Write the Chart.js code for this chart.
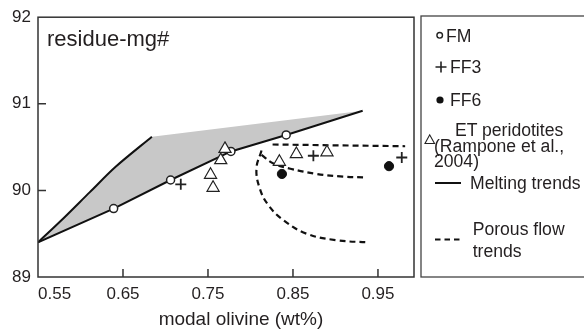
<!DOCTYPE html>
<html lang="en">
<head>
<meta charset="UTF-8">
<title>residue-mg#</title>
<script src="https://cdn.jsdelivr.net/npm/chart.js@4.4.1/dist/chart.umd.min.js"></script>
<style>
    body { margin: 0; background: #fff; overflow: hidden; }
    #wrap { position: relative; width: 584px; height: 332px; }
    #overlay { position: absolute; left: 0; top: 0; }
    #overlay text { font-family: "Liberation Sans", Arial, Helvetica, sans-serif; fill: #231f20; }
</style>
</head>
<body>
<div id="wrap">
    <canvas id="grafico" width="584" height="332"></canvas>
    <svg id="overlay" width="584" height="332">
        <text x="47" y="46" font-size="22">residue-mg#</text>
        <text x="241" y="325" font-size="19" text-anchor="middle">modal olivine (wt%)</text>

        <!-- legenda -->
        <rect x="421" y="16" width="200" height="261" fill="none" stroke="#444" stroke-width="1.3"/>
        <circle cx="439.7" cy="35.3" r="2.8" fill="#fff" stroke="#222" stroke-width="1.4"/>
        <text x="446" y="41.5" font-size="17.6">FM</text>
        <path d="M435.5 67 H446.5 M441 61.5 V72.5" stroke="#222" stroke-width="1.6"/>
        <text x="450" y="73.4" font-size="17.6">FF3</text>
        <circle cx="440" cy="100" r="3.6" fill="#111"/>
        <text x="450" y="106.2" font-size="17.6">FF6</text>
        <path d="M425 143.5 L434.5 143.5 L429.7 134.8 Z" fill="#fff" stroke="#222" stroke-width="1.1"/>
        <text x="455" y="136.4" font-size="17.6">ET peridotites</text>
        <text x="434" y="151.8" font-size="17.6">(Rampone et al.,</text>
        <text x="434" y="167.2" font-size="17.6">2004)</text>
        <path d="M435 183 H461" stroke="#111" stroke-width="2"/>
        <text x="470" y="189.2" font-size="17.6">Melting trends</text>
        <path d="M435 239.5 H461" stroke="#111" stroke-width="2" stroke-dasharray="5.5 4"/>
        <text x="472.7" y="235.2" font-size="17.6">Porous flow</text>
        <text x="472.7" y="256.7" font-size="17.6">trends</text>
    </svg>
</div>

<script>
    // eixos
    var xMin = 0.55
    var xMax = 0.9924
    var yMin = 89
    var yMax = 92
    var xTicks = [0.55, 0.65, 0.75, 0.85, 0.95]
    var xTickLabels = ['0.55', '0.65', '0.75', '0.85', '0.95']
    var yTicks = [89, 90, 91, 92]
    var yTickLabels = ['89', '90', '91', '92']

    // melting trends
    var meltUpperX = [0.550, 0.576, 0.611, 0.641, 0.684]
    var meltUpperY = [89.40, 89.64, 89.98, 90.27, 90.62]
    var meltLowerX = [0.550, 0.639, 0.706, 0.777, 0.842, 0.932]
    var meltLowerY = [89.40, 89.79, 90.12, 90.45, 90.64, 90.92]

    // porous flow trends
    var flowTopX = [0.826, 0.982]
    var flowTopY = [90.53, 90.51]
    var flowMidX = [0.813, 0.827, 0.847, 0.878, 0.909, 0.935]
    var flowMidY = [90.41, 90.31, 90.25, 90.19, 90.16, 90.15]
    var flowOuterX = [0.813, 0.807, 0.811, 0.821, 0.839, 0.866, 0.901, 0.939]
    var flowOuterY = [90.46, 90.25, 90.02, 89.83, 89.655, 89.50, 89.425, 89.40]

    // amostras
    var fmX = [0.639, 0.706, 0.777, 0.842]
    var fmY = [89.79, 90.12, 90.45, 90.64]
    var ff3X = [0.718, 0.874, 0.978]
    var ff3Y = [90.07, 90.40, 90.38]
    var ff6X = [0.837, 0.963]
    var ff6Y = [90.19, 90.28]
    var etX = [0.753, 0.756, 0.765, 0.770, 0.834, 0.854, 0.890]
    var etY = [90.18, 90.03, 90.35, 90.48, 90.33, 90.42, 90.44]

    function pontos(xs, ys) {
        return xs.map(function (x, i) { return { x: x, y: ys[i] } })
    }

    // area cinza: curva de cima, borda superior, volta pela linha de baixo
    var areaCinza = pontos(meltUpperX, meltUpperY)
        .concat(pontos(meltLowerX, meltLowerY).slice(1).reverse())

    var fonte = { family: '"Liberation Sans", Arial, Helvetica, sans-serif', size: 17 }
    var corTexto = '#231f20'

    function linha(dados, tracejado, tensao) {
        return {
            data: dados,
            showLine: true,
            pointRadius: 0,
            borderColor: '#111',
            borderWidth: tracejado ? 2.2 : 2,
            borderDash: tracejado ? [6, 4] : [],
            tension: tensao,
            fill: false,
            order: 2
        }
    }

    const moldura = {
        id: 'moldura',
        afterDraw: function (chart) {
            const ctx = chart.ctx
            const a = chart.chartArea
            const sx = chart.scales.x
            const sy = chart.scales.y
            ctx.save()
            ctx.strokeStyle = '#333'
            ctx.lineWidth = 1.5
            ctx.strokeRect(a.left, a.top, a.right - a.left, a.bottom - a.top)
            ctx.beginPath()
            xTicks.slice(1).forEach(function (v) {
                const px = sx.getPixelForValue(v)
                ctx.moveTo(px, a.bottom)
                ctx.lineTo(px, a.bottom - 8)
            })
            yTicks.slice(1, -1).forEach(function (v) {
                const py = sy.getPixelForValue(v)
                ctx.moveTo(a.left, py)
                ctx.lineTo(a.left + 8, py)
            })
            ctx.stroke()
            ctx.restore()
        }
    }

    new Chart(document.getElementById('grafico'), {
        type: 'scatter',
        data: {
            datasets: [
                {
                    label: 'ET peridotites', data: pontos(etX, etY), pointStyle: 'triangle', pointRadius: 7,
                    pointBackgroundColor: '#fff', pointBorderColor: '#222', pointBorderWidth: 1.2, order: 1
                },
                {
                    label: 'FM', data: pontos(fmX, fmY), pointStyle: 'circle', pointRadius: 4,
                    pointBackgroundColor: '#fff', pointBorderColor: '#222', pointBorderWidth: 1.5, order: 1
                },
                {
                    label: 'FF3', data: pontos(ff3X, ff3Y), pointStyle: 'cross', pointRadius: 5.5,
                    pointBorderColor: '#222', pointBorderWidth: 1.8, order: 1
                },
                {
                    label: 'FF6', data: pontos(ff6X, ff6Y), pointStyle: 'circle', pointRadius: 4.6,
                    pointBackgroundColor: '#111', pointBorderColor: '#111', pointBorderWidth: 1, order: 1
                },
                linha(pontos(meltUpperX, meltUpperY), false, 0.3),
                linha(pontos(meltLowerX, meltLowerY), false, 0),
                linha(pontos(flowTopX, flowTopY), true, 0),
                linha(pontos(flowMidX, flowMidY), true, 0.4),
                linha(pontos(flowOuterX, flowOuterY), true, 0.4),
                {
                    data: areaCinza, showLine: true, pointRadius: 0, tension: 0,
                    borderColor: 'rgba(0,0,0,0)', borderWidth: 1,
                    backgroundColor: '#c8c8c8', fill: 'shape', order: 3
                }
            ]
        },
        options: {
            responsive: false,
            animation: false,
            events: [],
            layout: { padding: { top: 16, right: 170, left: 0, bottom: 0 } },
            plugins: { legend: { display: false }, tooltip: { enabled: false } },
            scales: {
                x: {
                    type: 'linear', min: xMin, max: xMax,
                    afterBuildTicks: function (s) {
                        s.ticks = xTicks.concat([xMax]).map(function (v) { return { value: v } })
                    },
                    afterFit: function (s) { s.height = 55 },
                    grid: { display: false, drawTicks: false },
                    border: { display: false },
                    ticks: {
                        align: 'inner', padding: 7, font: fonte, color: corTexto,
                        autoSkip: false, maxRotation: 0,
                        callback: function (v, i) { return xTickLabels[i] || '' }
                    }
                },
                y: {
                    type: 'linear', min: yMin, max: yMax,
                    afterBuildTicks: function (s) {
                        s.ticks = yTicks.map(function (v) { return { value: v } })
                    },
                    afterFit: function (s) { s.width = 38 },
                    grid: { display: false, drawTicks: false },
                    border: { display: false },
                    ticks: {
                        padding: 7, font: fonte, color: corTexto, autoSkip: false,
                        callback: function (v) { return yTickLabels[yTicks.indexOf(v)] }
                    }
                }
            }
        },
        plugins: [moldura]
    })
</script>
</body>
</html>
